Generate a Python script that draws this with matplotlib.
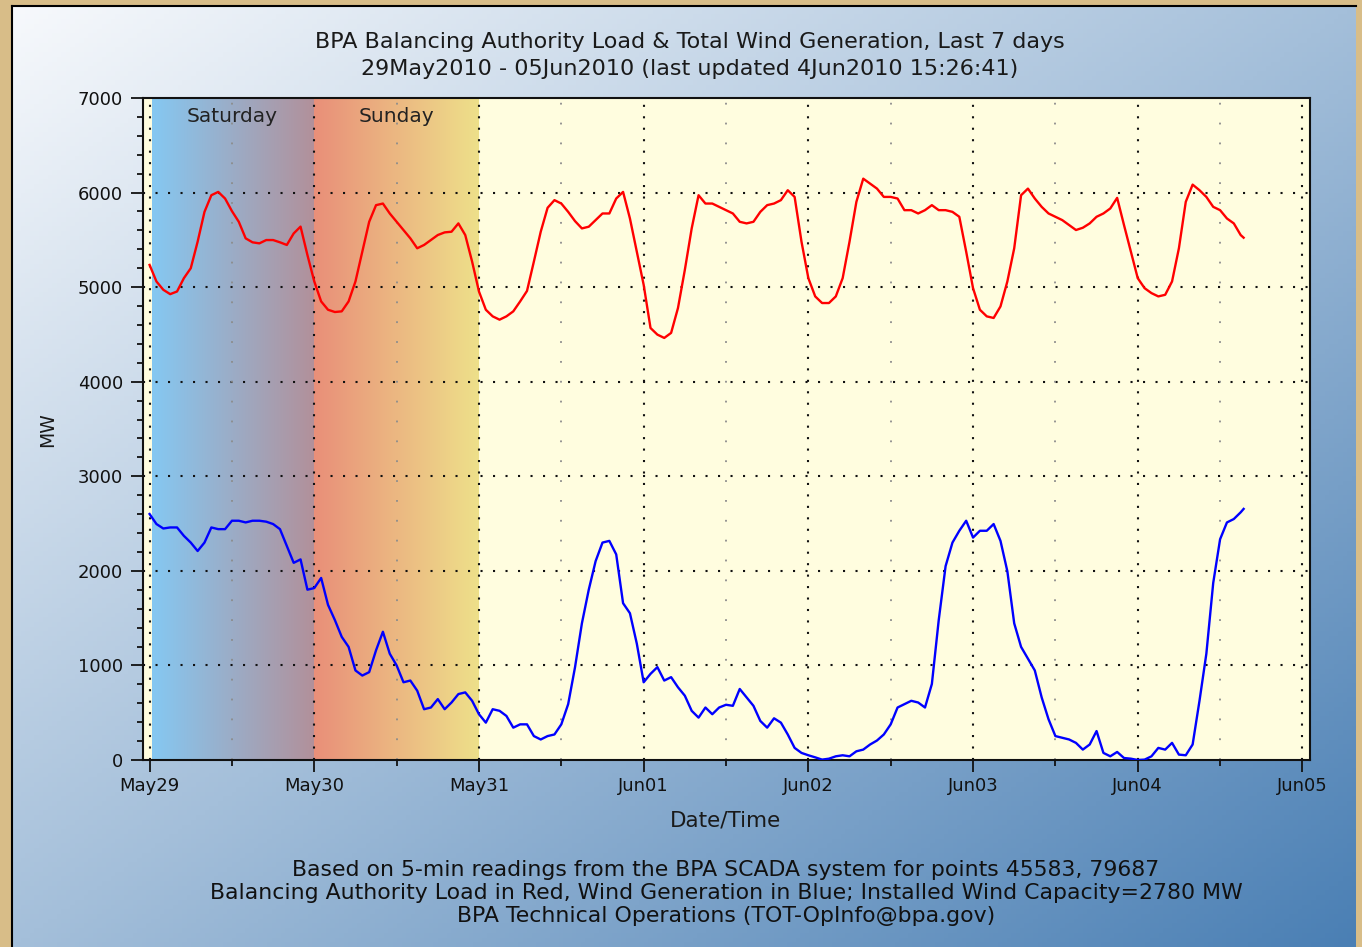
import numpy as np
import matplotlib
matplotlib.use('Agg')
import matplotlib.pyplot as plt
from matplotlib.colors import to_rgb

# hours since May29 00:00, read roughly once per hour from the chart
hours = list(range(160)) + [159.43]

load_mw = [
    5235, 5060, 4972, 4926, 4954, 5095, 5200, 5480, 5796, 5972,
    6007, 5937, 5804, 5691, 5516, 5474, 5463, 5498, 5498, 5474,
    5446, 5568, 5640, 5340, 5060, 4849, 4761, 4737, 4744, 4849,
    5060, 5375, 5691, 5867, 5884, 5779, 5691, 5604, 5516, 5411,
    5446, 5498, 5551, 5579, 5586, 5674, 5551, 5270, 4954, 4761,
    4691, 4656, 4691, 4744, 4849, 4960, 5270, 5586, 5839, 5920,
    5884, 5796, 5698, 5621, 5639, 5709, 5779, 5779, 5937, 6007,
    5726, 5375, 5025, 4568, 4498, 4463, 4516, 4779, 5182, 5621,
    5972, 5884, 5884, 5849, 5814, 5779, 5691, 5674, 5691, 5796,
    5867, 5884, 5920, 6025, 5954, 5481, 5095, 4902, 4832, 4832,
    4902, 5095, 5481, 5902, 6147, 6095, 6042, 5954, 5954, 5937,
    5814, 5814, 5779, 5814, 5867, 5814, 5814, 5796, 5744, 5375,
    4989, 4761, 4691, 4674, 4796, 5060, 5411, 5972, 6042, 5937,
    5849, 5779, 5744, 5709, 5656, 5604, 5628, 5674, 5744, 5779,
    5832, 5944, 5656, 5375, 5095, 4989, 4937, 4902, 4919, 5060,
    5411, 5902, 6084, 6025, 5954, 5849, 5814, 5726, 5674, 5551, 5523,
]

wind_mw = [
    2601, 2495, 2448, 2459, 2459, 2370, 2299, 2210, 2299, 2459,
    2441, 2441, 2530, 2530, 2512, 2530, 2530, 2520, 2495, 2441,
    2263, 2085, 2121, 1801, 1818, 1925, 1641, 1480, 1302, 1196,
    947, 893, 929, 1160, 1356, 1124, 1000, 822, 840, 733,
    537, 555, 644, 537, 608, 697, 715, 626, 484, 395,
    537, 520, 466, 342, 377, 377, 253, 217, 253, 270,
    377, 591, 982, 1445, 1801, 2103, 2299, 2317, 2174, 1658,
    1552, 1231, 822, 911, 982, 840, 876, 769, 680, 520,
    448, 555, 484, 555, 584, 573, 751, 662, 573, 413,
    342, 441, 395, 270, 128, 75, 50, 28, 4, 14,
    39, 50, 39, 92, 110, 164, 206, 270, 377, 555,
    591, 626, 608, 555, 804, 1480, 2050, 2299, 2424, 2530,
    2352, 2424, 2424, 2495, 2317, 1996, 1445, 1196, 1071, 947,
    662, 431, 253, 235, 217, 181, 110, 164, 306, 75,
    39, 85, 21, 14, 0, 4, 39, 128, 110, 181,
    57, 50, 164, 626, 1124, 1872, 2334, 2512, 2548, 2619, 2655,
]

day_labels = ['May29', 'May30', 'May31', 'Jun01', 'Jun02', 'Jun03', 'Jun04', 'Jun05']
weekend_names = ['Saturday', 'Sunday']
weekend_colors = [('#85c8f2', '#b2909a'), ('#e98f79', '#eee08a')]

title_lines = [
    'BPA Balancing Authority Load & Total Wind Generation, Last 7 days',
    '29May2010 - 05Jun2010 (last updated 4Jun2010 15:26:41)',
]
footer_lines = [
    'Based on 5-min readings from the BPA SCADA system for points 45583, 79687',
    'Balancing Authority Load in Red, Wind Generation in Blue; Installed Wind Capacity=2780 MW',
    'BPA Technical Operations (TOT-OpInfo@bpa.gov)',
]

W, H = 1362, 947
fig = plt.figure(figsize=(W / 100, H / 100), dpi=100, facecolor='#d8bd88')


def ramp(c0, c1, n=256):
    a, b = np.array(to_rgb(c0)), np.array(to_rgb(c1))
    t = np.linspace(0, 1, n)[:, None]
    return a + (b - a) * t


# blue panel behind everything, diagonal gradient
bg = fig.add_axes([12 / W, 0, 1344 / W, 941 / H])
u = np.linspace(0, 1, 300)[None, :]
v = np.linspace(0, 1, 200)[:, None]
t = (u + v) / 2
stops = [0, 0.5, 1]
cols = np.array([to_rgb('#f7f9fc'), to_rgb('#a4bfda'), to_rgb('#4a7fb4')])
img = np.stack([np.interp(t, stops, cols[:, k]) for k in range(3)], axis=-1)
bg.imshow(img, aspect='auto', extent=[0, 1, 0, 1], origin='upper')
bg.set_xlim(0, 1)
bg.set_ylim(0, 1)
bg.set_xticks([])
bg.set_yticks([])
for s in ['right', 'bottom']:
    bg.spines[s].set_visible(False)
for s in ['left', 'top']:
    bg.spines[s].set_linewidth(1.5)

ax = fig.add_axes([143 / W, 1 - 760 / H, (1310 - 143) / W, (760 - 98) / H])
ax.set_facecolor('#fffddf')

days = np.array(hours) / 24.0

# weekend bands
for i, (name, (c0, c1)) in enumerate(zip(weekend_names, weekend_colors)):
    x0 = i + (0.012 if i == 0 else 0)
    band = ramp(c0, c1)[None, :, :]
    ax.imshow(band, aspect='auto', extent=[x0, i + 1, 0, 7000], zorder=0.5)
    ax.text(i + 0.5, 6800, name, ha='center', va='center', fontsize=14.5, color='#222222', zorder=4)

# grid
for yv in range(1000, 7000, 1000):
    ax.axhline(yv, color='#111111', lw=1.5, ls=(0, (1, 5)), zorder=1)
for d in range(0, 8):
    ax.axvline(d, color='#111111', lw=1.5, ls=(0, (1, 4.5)), zorder=1)
for d in np.arange(0.5, 7, 1):
    ax.axvline(d, color='#8c8c8c', lw=1.3, ls=(0, (1, 10)), zorder=1)

ax.plot(days, load_mw, color='#ff0000', lw=1.7, zorder=3)
ax.plot(days, wind_mw, color='#0000ff', lw=1.7, zorder=3)

ax.set_xlim(-0.04, 7.046)
ax.set_ylim(0, 7000)
ax.set_xticks(range(8))
ax.set_xticklabels(day_labels)
ax.set_xticks(np.arange(0.5, 7.5, 1), minor=True)
ax.set_yticks(range(0, 7001, 1000))
ax.set_yticks(range(0, 7001, 200), minor=True)
ax.tick_params(axis='both', which='major', direction='out', length=8.5, width=1.3,
               labelsize=13, colors='#111111')
ax.tick_params(axis='x', which='major', pad=4)
ax.tick_params(axis='y', which='major', pad=6)
ax.tick_params(axis='both', which='minor', direction='out', length=4, width=1.3, colors='#111111')
for s in ax.spines.values():
    s.set_linewidth(1.5)
    s.set_color('#111111')

fig.text(690 / W, 1 - 42 / H, title_lines[0], ha='center', va='center', fontsize=16, color='#1a1a1a')
fig.text(690 / W, 1 - 69 / H, title_lines[1], ha='center', va='center', fontsize=16, color='#1a1a1a')
fig.text(726 / W, 1 - 820 / H, 'Date/Time', ha='center', va='center', fontsize=15.5, color='#1a1a1a')
fig.text(48 / W, 1 - 430 / H, 'MW', ha='center', va='center', rotation=90, fontsize=13.5, color='#1a1a1a')
for k, line in enumerate(footer_lines):
    fig.text(726 / W, 1 - (870 + 23 * k) / H, line, ha='center', va='center',
             fontsize=15.8, color='#111111')

fig.savefig('out.png', dpi=100, facecolor=fig.get_facecolor())
